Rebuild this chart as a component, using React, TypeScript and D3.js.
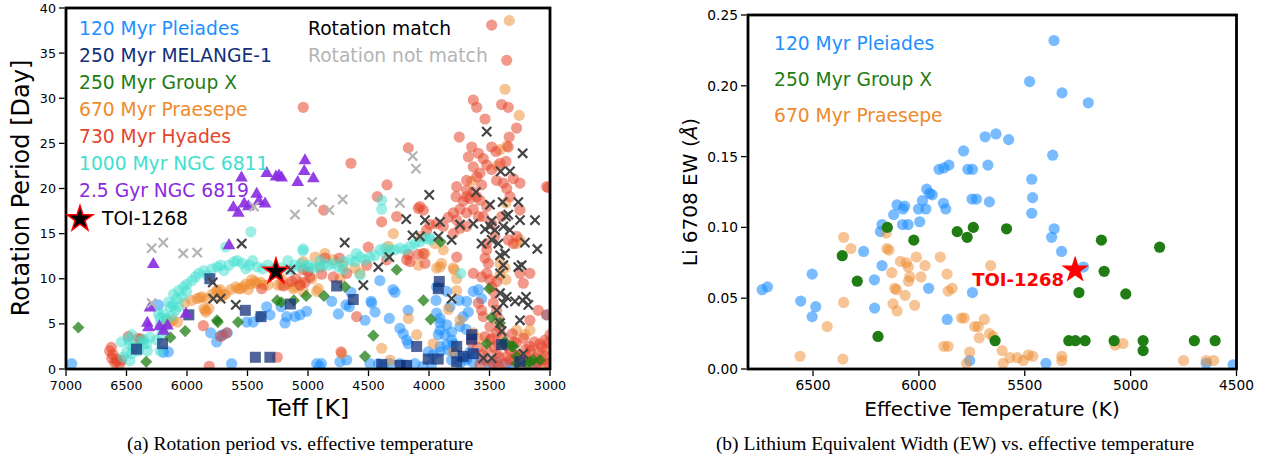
import React from 'react';
import * as d3 from 'd3';

type Pt = [number, number];

// ---- panel (a): rotation period vs Teff ----
const rotTicksX = [7000, 6500, 6000, 5500, 5000, 4500, 4000, 3500, 3000];
const rotTicksY = [0, 5, 10, 15, 20, 25, 30, 35, 40];

const pleiadesRot: Pt[] = [
  [6953, 0.6], [6237, 7.1], [6154, 1.9], [6196, 1.85], [5804, 4.0], [5755, 3.0], [5722, 3.7], [5667, 4.0],
  [5631, 0.6], [5507, 5.2], [5452, 5.2], [5397, 5.8], [5341, 6.9], [5314, 6.0], [5190, 5.1], [5176, 5.8],
  [5108, 5.8], [5066, 6.0], [5011, 6.4], [4928, 0.6], [4907, 0.3], [5222, 6.9], [4406, 9.8], [4297, 8.8],
  [4281, 8.5], [4645, 8.5], [4686, 7.1], [4659, 6.9], [4479, 7.5], [4804, 7.5], [4749, 6.1], [4529, 5.4],
  [4328, 5.6], [4446, 6.3], [4474, 7.3], [4240, 4.5], [4213, 3.9], [4185, 3.2], [4172, 2.8], [4172, 6.5],
  [4889, 0.6], [4736, 0.8], [4680, 1.0], [4488, 0.6], [4418, 0.6], [4377, 0.4], [4328, 0.6], [4240, 0.6],
  [4185, 0.4], [4116, 0.6], [3942, 7.6], [3937, 9.1], [3854, 8.6], [3827, 6.9], [3750, 7.6], [3689, 7.5],
  [3634, 8.6], [3592, 8.8], [3565, 7.8], [3675, 6.3], [3717, 5.8], [3937, 6.2], [3909, 5.6], [3909, 4.3],
  [3868, 3.8], [3813, 3.2], [3854, 2.7], [3744, 4.7], [3694, 4.4], [4006, 1.9], [3965, 1.6], [3909, 1.9],
  [3661, 1.9], [3813, 1.0], [3744, 0.6], [3689, 1.0], [3634, 0.7], [3565, 1.0], [3441, 0.8], [3358, 0.6],
  [3028, 6.0], [3138, 0.6], [3909, 5.1], [3854, 4.9], [3813, 4.1], [3923, 3.8], [3799, 2.8], [3909, 2.5],
  [3840, 2.1], [3785, 1.7], [3744, 1.4], [3689, 1.2], [3620, 1.7], [5700, 3.8], [4050, 0.3], [3980, 0.5],
  [3500, 0.4], [3300, 0.3],
];

const melangeRot: Pt[] = [
  [5811, 10.0], [6417, 2.2], [6202, 2.8], [5985, 6.0], [5518, 6.5], [5388, 5.8], [5146, 7.2], [5435, 1.3],
  [5315, 1.3], [4763, 9.2], [4626, 7.7], [3915, 9.7], [3923, 8.9], [4102, 2.5], [4391, 0.5], [4240, 0.4],
  [4185, 0.4], [4006, 1.1], [3924, 1.1], [3771, 2.5], [3771, 0.8], [3717, 1.4], [3647, 3.8], [3647, 3.3],
  [3634, 1.7], [3400, 2.7], [3248, 0.8],
];

const groupXRot: Pt[] = [
  [6898, 4.6], [6337, 0.8], [6137, 3.5], [6015, 4.2], [5752, 5.4], [5745, 5.2], [5578, 5.2], [5255, 7.6],
  [5220, 7.4], [5117, 7.6], [5015, 8.1], [4868, 8.1], [4694, 9.1], [4267, 11.0], [4046, 7.6], [3986, 5.5],
  [4460, 3.7], [4529, 1.4], [3502, 8.9], [3482, 5.7], [3413, 5.1], [3372, 3.0], [3317, 2.5], [3276, 0.6],
  [3166, 0.8], [3904, 14.1], [3523, 2.8], [3386, 2.8], [3303, 2.5], [3138, 1.0], [3083, 1.0], [3193, 0.6],
  [3276, 1.4],
];

const praesepeRot: Pt[] = [
  [5917, 7.8], [5875, 8.0], [5833, 7.8], [5792, 8.3], [5750, 8.7], [5722, 8.0], [5681, 8.3], [5847, 6.5],
  [5819, 6.7], [5639, 8.8], [5597, 9.1], [5556, 8.9], [5514, 9.4], [5472, 9.4], [5439, 9.7], [5389, 9.6],
  [5333, 9.3], [5250, 9.3], [6117, 5.4], [6078, 5.2], [6167, 5.4], [5222, 9.3], [5167, 9.4], [5111, 9.1],
  [5056, 9.6], [6017, 7.3], [5961, 7.6], [5893, 7.9], [5860, 6.7], [5843, 6.3], [5755, 8.6], [5727, 8.8],
  [5700, 8.2], [5576, 8.9], [5535, 9.1], [5493, 8.8], [5465, 9.9], [5424, 9.5], [5369, 9.3], [5218, 10.0],
  [5122, 8.9], [5066, 9.3], [5039, 8.6], [4970, 10.0], [4915, 8.9], [5039, 11.9], [4942, 12.4], [4901, 11.3],
  [4860, 12.8], [4791, 12.1], [4736, 10.0], [4713, 11.5], [4612, 11.2], [4570, 10.6], [4928, 8.6], [4721, 1.7],
  [4391, 2.3], [4322, 1.0], [4295, 15.0], [4336, 13.6], [4171, 5.6], [4102, 3.8], [4089, 11.5], [3937, 11.2],
  [3896, 11.7], [3793, 11.0], [3771, 10.0], [3771, 8.7], [3840, 6.6], [3744, 5.4], [3634, 4.0], [3592, 3.4],
  [3276, 4.3], [3207, 3.8], [3166, 4.3], [3337, 38.6], [3372, 31.0], [3254, 28.1], [3358, 24.7], [3413, 24.3],
  [3436, 22.5], [3647, 20.8], [3364, 18.4], [3248, 14.3], [3276, 13.9], [3413, 10.4], [3364, 9.9], [4061, 14.7],
  [3951, 13.9], [4033, 12.8], [3882, 13.2], [3799, 11.2], [3909, 11.3], [3413, 11.7], [3372, 11.2], [3965, 2.8],
  [3799, 1.9], [6174, 4.9], [6141, 5.2],
];

const hyadesRot: Pt[] = [
  [6639, 2.0], [6611, 1.6], [6583, 1.1], [6625, 2.4], [6597, 0.7], [6542, 1.0], [6622, 1.2], [6581, 0.8],
  [6554, 0.6], [6485, 3.6], [6402, 3.4], [6383, 3.3], [5865, 4.8], [5816, 0.3], [5672, 4.0], [5722, 3.6],
  [5383, 8.9], [5254, 1.3], [5135, 9.7], [5200, 9.2], [5100, 10.0], [5025, 9.6], [5040, 11.0], [5000, 10.8],
  [5066, 9.3], [4984, 10.2], [4887, 10.5], [4791, 10.2], [4680, 10.6], [4515, 11.5], [4350, 12.1], [4185, 12.1],
  [4047, 12.8], [4598, 5.8], [4727, 1.9], [5039, 29.0], [4645, 22.8], [4347, 20.4], [4427, 19.1], [4391, 16.3],
  [4267, 16.9], [4870, 17.6], [4089, 17.8], [4860, 12.3], [4741, 12.3], [4502, 13.5], [4171, 12.7], [4089, 12.7],
  [4157, 11.9], [4033, 11.7], [4171, 24.5], [4075, 18.0], [4019, 15.4],
  [3482, 38.1], [3358, 34.2], [3634, 29.8], [3606, 29.0], [3400, 29.3], [3345, 29.0], [3537, 27.7], [3276, 26.7],
  [3750, 25.7], [3337, 25.7], [3647, 24.6], [3675, 23.5], [3592, 23.9], [3551, 23.3], [3482, 24.6], [3446, 24.1],
  [3345, 24.6], [3634, 22.4], [3579, 21.7], [3523, 22.6], [3482, 22.1], [3413, 22.8], [3364, 23.0], [3689, 20.9],
  [3606, 21.3], [3565, 20.4], [3441, 20.9], [3386, 20.6], [3358, 20.0], [3014, 20.1], [3771, 20.2], [3634, 19.6],
  [3689, 19.1], [3579, 18.7], [3523, 18.0], [3689, 19.8], [3777, 19.1], [3717, 18.6], [3661, 18.9], [3606, 19.1],
  [3744, 17.7], [3799, 17.3], [3840, 16.8], [3771, 16.5], [3689, 17.3], [3634, 17.7], [3592, 16.9], [3551, 16.9],
  [3689, 15.8], [4047, 17.6], [3992, 16.0], [3937, 16.1], [3882, 15.8], [3799, 15.0], [3744, 15.6], [3482, 16.1],
  [3400, 16.9], [3455, 14.7], [3345, 14.3], [3303, 13.9], [3276, 14.7], [3523, 13.9], [3523, 13.2], [3537, 12.3],
  [3510, 11.7], [3523, 10.6], [3496, 9.9], [3482, 9.1], [3441, 9.7], [3455, 8.4], [3469, 7.3], [3441, 6.5],
  [3427, 5.6], [3413, 4.5], [3496, 3.2], [3427, 2.8], [3634, 10.6], [3565, 10.2], [3771, 12.4], [3331, 19.1],
  [3248, 17.6], [3166, 10.6], [3248, 10.6], [3221, 9.5], [3097, 6.5], [3166, 5.4], [3028, 20.2], [3303, 21.1],
  [3248, 20.6], [3537, 3.6], [3523, 2.1], [3496, 4.7], [3441, 4.0], [3592, 7.3], [3565, 6.5], [3551, 5.8],
  [3028, 6.0], [3042, 3.2], [3000, 3.8], [3441, 1.7], [3358, 1.4], [3276, 1.5], [3193, 1.4], [3110, 1.2],
  [3055, 1.0], [3014, 0.6], [3386, 0.6], [3248, 0.44], [3138, 0.44], [3055, 0.44], [3469, 0.6], [3331, 2.1],
  [3166, 2.5], [3083, 2.8], [3028, 2.1], [3300, 3.0], [3200, 2.2], [3100, 1.8],
  [3650, 3.0], [3600, 2.4], [3560, 1.6], [3520, 0.9], [3480, 3.4], [3460, 2.4], [3420, 1.3], [3390, 3.6],
  [3360, 2.6], [3330, 1.0], [3310, 3.9], [3280, 2.9], [3250, 1.6], [3220, 3.4], [3190, 0.9], [3160, 2.0],
  [3130, 3.0], [3100, 0.7], [3070, 2.4], [3040, 1.4], [3010, 2.9], [3580, 0.5], [3430, 0.3], [3300, 0.9],
];

const ngc6811Rot: Pt[] = [
  [6542, 3.0], [6486, 3.3], [6472, 2.8], [6444, 2.4], [6389, 3.0], [6361, 3.3], [6333, 2.8], [6306, 3.5],
  [6500, 1.85], [6458, 1.7], [6403, 2.0], [6528, 1.3], [6472, 0.9], [6328, 2.0], [6222, 2.0], [6457, 3.8],
  [6361, 2.8], [6250, 3.2], [6209, 3.8], [6196, 4.3], [6222, 5.7], [6194, 6.1], [6167, 5.6], [6125, 5.9],
  [6097, 6.5], [6069, 6.9], [6139, 6.9], [6153, 7.4], [6236, 6.1], [6222, 5.0], [6113, 7.1], [6111, 8.3],
  [6069, 8.7], [6028, 9.1], [6000, 9.4], [5958, 9.8], [5931, 10.2], [5903, 10.6], [6083, 7.8], [6042, 8.0],
  [6003, 8.6], [5861, 10.9], [5833, 10.4], [5792, 11.1], [5750, 11.3], [5722, 11.5], [5694, 10.9], [5653, 11.5],
  [5611, 11.9], [5583, 12.0], [5542, 11.7], [5514, 11.1], [5486, 11.5], [5458, 12.0], [5417, 11.3], [5375, 11.1],
  [5333, 11.5], [5278, 11.1], [5167, 12.0], [5111, 11.5], [5056, 11.7], [5000, 11.3], [5042, 13.1], [5472, 15.2],
  [5681, 13.5], [5039, 13.3], [5066, 11.3], [4998, 11.5], [4956, 11.2], [4915, 11.3], [4874, 11.5], [4832, 11.5],
  [4791, 11.7], [4750, 11.3], [4708, 11.9], [4653, 12.1], [4612, 11.9], [4570, 12.4], [4529, 12.1], [4488, 12.4],
  [4446, 12.6], [4405, 13.2], [4364, 13.4], [4322, 13.2], [4281, 13.2], [4240, 13.4], [4198, 13.2], [4157, 13.6],
  [4116, 13.9], [4075, 14.1], [4033, 14.5], [3992, 14.5], [4391, 18.7], [4391, 17.7], [4570, 10.4], [4708, 11.0],
  [3992, 14.3], [3738, 10.6], [5220, 11.2], [5150, 11.0], [4900, 12.0], [4600, 12.8], [4350, 12.6],
];

const ngc6819Rot: Pt[] = [
  [5617, 18.0], [5576, 17.4], [5527, 18.4], [5493, 18.1], [5424, 19.5], [5405, 18.7], [5355, 18.4], [5550, 21.3],
  [5341, 21.8], [5265, 21.4], [5240, 21.5], [5218, 21.3], [5085, 20.8], [5025, 23.2], [5031, 22.0], [4956, 21.2],
  [5653, 13.8], [6278, 11.7], [6306, 6.9], [6328, 5.2], [6319, 4.7], [6228, 4.8], [6161, 4.9], [6194, 4.3],
  [6008, 6.2],
];

const matchRot: Pt[] = [
  [5548, 13.9], [5787, 9.6], [5783, 7.8], [5722, 7.8], [5597, 7.1], [5144, 11.0], [4697, 14.0], [4419, 11.3],
  [4328, 12.4], [4543, 9.3], [4188, 16.6], [4136, 14.8], [4075, 14.7], [4033, 16.5], [3998, 19.3], [3813, 7.8],
  [3813, 14.3], [3523, 26.3], [3226, 23.9], [3408, 21.9], [3331, 21.9], [3612, 19.6], [3496, 18.2], [3391, 18.5],
  [3262, 18.5], [3345, 17.1], [3909, 16.3], [3744, 16.0], [3634, 16.1], [3482, 16.4], [3364, 16.9], [3248, 16.5],
  [3124, 16.5], [3537, 15.5], [3496, 15.8], [3455, 15.4], [3386, 15.8], [3331, 15.4], [3923, 14.7], [3565, 13.9],
  [3482, 14.3], [3427, 13.9], [3207, 14.0], [3105, 13.3], [3413, 12.6], [3372, 12.8], [3386, 11.5], [3262, 11.3],
  [3234, 11.5], [3413, 10.6], [3413, 8.4], [3358, 8.0], [3289, 7.5], [3226, 7.6], [3198, 8.0], [3179, 7.1],
  [3441, 6.5], [3386, 7.3], [3248, 5.4], [3413, 5.1], [3551, 1.2], [3482, 1.2], [3221, 1.7], [3400, 4.2],
];

const noMatchRot: Pt[] = [
  [6292, 13.4], [6196, 14.0], [6031, 12.8], [5915, 12.9], [6292, 7.3], [5446, 18.0], [5108, 17.1], [4965, 18.5],
  [4824, 17.6], [4713, 18.8], [4240, 18.4], [4135, 23.6], [4108, 22.2],
];

const toiRot: Pt = [5265, 10.8];

// ---- panel (b): Li EW vs Teff ----
const liTicksX = [6500, 6000, 5500, 5000, 4500];
const liTicksY = [0, 0.05, 0.1, 0.15, 0.2, 0.25];

const pleiadesLi: Pt[] = [
  [5362, 0.232], [5477, 0.203], [5324, 0.195], [5200, 0.188], [5687, 0.164], [5636, 0.166], [5576, 0.162],
  [5789, 0.154], [5368, 0.151], [5905, 0.141], [5882, 0.142], [5858, 0.144], [5769, 0.141], [5747, 0.141],
  [5674, 0.144], [5467, 0.134], [5463, 0.121], [5467, 0.110], [5963, 0.127], [5949, 0.124], [5937, 0.123],
  [5983, 0.119], [6002, 0.113], [5967, 0.113], [5884, 0.117], [5873, 0.113], [5749, 0.120], [5728, 0.120],
  [5667, 0.118], [6103, 0.116], [6067, 0.115], [6119, 0.109], [6075, 0.113], [6077, 0.102], [6051, 0.102],
  [5996, 0.104], [6174, 0.102], [6182, 0.097], [5361, 0.099], [5373, 0.093], [5326, 0.083], [5223, 0.072],
  [6261, 0.083], [6174, 0.073], [6210, 0.063], [5954, 0.057], [5747, 0.054], [6209, 0.043], [5866, 0.035],
  [5760, 0.006], [5400, 0.004], [6740, 0.056], [6715, 0.058], [6504, 0.067], [6558, 0.048], [6487, 0.044],
  [6504, 0.037], [4643, 0.004], [4516, 0.003],
];

const groupXLi: Pt[] = [
  [6149, 0.100], [6024, 0.091], [5819, 0.097], [5772, 0.093], [5743, 0.100], [5586, 0.099], [6362, 0.080],
  [6291, 0.062], [6193, 0.023], [5244, 0.054], [5292, 0.020], [5261, 0.020], [5215, 0.020], [5640, 0.020],
  [5138, 0.091], [4863, 0.086], [5125, 0.069], [5023, 0.053], [5078, 0.020], [4941, 0.020], [4941, 0.013],
  [4699, 0.020], [4601, 0.020],
];

const praesepeLi: Pt[] = [
  [6355, 0.093], [6321, 0.085], [6355, 0.047], [6433, 0.030], [6561, 0.009], [6359, 0.007], [6154, 0.096],
  [6151, 0.085], [6141, 0.084], [6087, 0.076], [6059, 0.075], [6050, 0.072], [6128, 0.068], [6114, 0.057],
  [6106, 0.056], [6065, 0.052], [6122, 0.046], [6103, 0.041], [6043, 0.065], [6049, 0.062], [6020, 0.045],
  [6012, 0.079], [5990, 0.065], [5971, 0.073], [5899, 0.079], [5867, 0.067], [5862, 0.055], [5843, 0.057],
  [5799, 0.036], [5786, 0.036], [5882, 0.016], [5862, 0.016], [5760, 0.012], [5775, 0.004], [5736, 0.030],
  [5715, 0.022], [5661, 0.073], [5720, 0.030], [5691, 0.035], [5666, 0.025], [5650, 0.023], [5607, 0.013],
  [5602, 0.004], [5570, 0.008], [5535, 0.008], [5507, 0.006], [5483, 0.010], [5462, 0.009], [5325, 0.009],
  [5325, 0.006], [5073, 0.017], [5036, 0.018], [4750, 0.006], [4643, 0.006], [4608, 0.006],
];

const toiLi: Pt = [5262, 0.07];

const C = {
  pleiades: '#1e90ff',
  melange: '#13307a',
  groupX: '#1f7d13',
  praesepe: '#ee8a2c',
  hyades: '#e5452c',
  ngc6811: '#40e0d0',
  ngc6819: '#8a2be2',
  match: '#444444',
  noMatch: '#b4b4b4',
};

const FONT = 'DejaVu Sans, sans-serif';

const starPath = (r: number) => d3.symbol().type(d3.symbolStar).size((r * r) / 0.8908130915292852)() as string;
const triPath = d3.symbol().type(d3.symbolTriangle).size(70)() as string;

function Axes({ x, y, ticksX, ticksY, fmtY, fontSize }: any) {
  const [x0, x1] = x.range();
  const [y0, y1] = y.range();
  return (
    <g>
      <rect x={x0} y={y1} width={x1 - x0} height={y0 - y1} fill="none" stroke="#000" strokeWidth={2.8} />
      {ticksX.map((t: number) => (
        <g key={'x' + t} transform={`translate(${x(t)},${y0})`}>
          <line y1={1.4} y2={7} stroke="#000" strokeWidth={1.3} />
          <text y={16} textAnchor="middle" dominantBaseline="central" fontSize={fontSize} fontFamily={FONT}>
            {t}
          </text>
        </g>
      ))}
      {ticksY.map((t: number) => (
        <g key={'y' + t} transform={`translate(${x0},${y(t)})`}>
          <line x1={-1.4} x2={-7} stroke="#000" strokeWidth={1.3} />
          <text x={-10} textAnchor="end" dominantBaseline="central" fontSize={fontSize} fontFamily={FONT}>
            {fmtY(t)}
          </text>
        </g>
      ))}
    </g>
  );
}

export default function App() {
  const xA = d3.scaleLinear().domain([7000, 3000]).range([66, 550]);
  const yA = d3.scaleLinear().domain([0, 40]).range([369, 8]);
  const xB = d3.scaleLinear().domain([6807, 4500]).range([748, 1236.5]);
  const yB = d3.scaleLinear().domain([0, 0.25]).range([369, 15]);

  const circles = (data: Pt[], x: any, y: any, color: string, op: number, key: string) =>
    data.map((d, i) => <circle key={key + i} cx={x(d[0])} cy={y(d[1])} r={5.6} fill={color} fillOpacity={op} />);

  const legendA = [
    ['120 Myr Pleiades', C.pleiades],
    ['250 Myr MELANGE-1', C.melange],
    ['250 Myr Group X', C.groupX],
    ['670 Myr Praesepe', C.praesepe],
    ['730 Myr Hyades', C.hyades],
    ['1000 Myr NGC 6811', C.ngc6811],
    ['2.5 Gyr NGC 6819', C.ngc6819],
  ];
  const legendB = [
    ['120 Myr Pleiades', C.pleiades],
    ['250 Myr Group X', C.groupX],
    ['670 Myr Praesepe', C.praesepe],
  ];

  return (
    <svg width={1273} height={460} style={{ position: 'absolute', left: 0, top: 0, background: '#fff' }}>
      <defs>
        <clipPath id="clipA">
          <rect x={66} y={8} width={484} height={361} />
        </clipPath>
        <clipPath id="clipB">
          <rect x={748} y={15} width={488.5} height={354} />
        </clipPath>
      </defs>

      {/* panel (a) */}
      <g clipPath="url(#clipA)">
        {circles(pleiadesRot, xA, yA, C.pleiades, 0.55, 'pl')}
        {circles(praesepeRot, xA, yA, C.praesepe, 0.5, 'pr')}
        {circles(hyadesRot, xA, yA, C.hyades, 0.55, 'hy')}
        {circles(ngc6811Rot, xA, yA, C.ngc6811, 0.5, 'n1')}
        {groupXRot.map((d, i) => (
          <rect key={'gx' + i} x={-4.3} y={-4.3} width={8.6} height={8.6} fill={C.groupX} fillOpacity={0.75}
            transform={`translate(${xA(d[0])},${yA(d[1])}) rotate(45)`} />
        ))}
        {melangeRot.map((d, i) => (
          <rect key={'me' + i} x={xA(d[0]) - 5.5} y={yA(d[1]) - 5.5} width={11} height={11} fill={C.melange} fillOpacity={0.75} />
        ))}
        {ngc6819Rot.map((d, i) => (
          <path key={'n9' + i} d={triPath} transform={`translate(${xA(d[0])},${yA(d[1]) + 1})`} fill={C.ngc6819} fillOpacity={0.9} />
        ))}
        {noMatchRot.map((d, i) => (
          <path key={'nm' + i} d="M-4.6,-4.6L4.6,4.6M-4.6,4.6L4.6,-4.6" transform={`translate(${xA(d[0])},${yA(d[1])})`}
            stroke={C.noMatch} strokeWidth={2.2} />
        ))}
        {matchRot.map((d, i) => (
          <path key={'ma' + i} d="M-4.6,-4.6L4.6,4.6M-4.6,4.6L4.6,-4.6" transform={`translate(${xA(d[0])},${yA(d[1])})`}
            stroke={C.match} strokeWidth={2.2} />
        ))}
        <path d={starPath(13.5)} transform={`translate(${xA(toiRot[0])},${yA(toiRot[1])})`} fill="#000" stroke="#f00" strokeWidth={1.5} />
      </g>
      <Axes x={xA} y={yA} ticksX={rotTicksX} ticksY={rotTicksY} fmtY={(t: number) => String(t)} fontSize={12.7} />
      {legendA.map(([label, color], i) => (
        <text key={label} x={79} y={28 + i * 27.1} dominantBaseline="central" fontSize={18.7} fontFamily={FONT} fill={color}>
          {label}
        </text>
      ))}
      <path d={starPath(13.5)} transform="translate(80,219)" fill="#000" stroke="#f00" strokeWidth={1.5} />
      <text x={102} y={218} dominantBaseline="central" fontSize={18.7} fontFamily={FONT} fill="#000">TOI-1268</text>
      <text x={308} y={28} dominantBaseline="central" fontSize={18.7} fontFamily={FONT} fill="#000">Rotation match</text>
      <text x={308} y={55} dominantBaseline="central" fontSize={18.7} fontFamily={FONT} fill={C.noMatch}>Rotation not match</text>
      <text x={308} y={408} textAnchor="middle" dominantBaseline="central" fontSize={23.5} fontFamily={FONT}>Teff [K]</text>
      <text transform="translate(21,188) rotate(-90)" textAnchor="middle" dominantBaseline="central" fontSize={24} fontFamily={FONT}>
        Rotation Period [Day]
      </text>
      <text x={300} y={450} textAnchor="middle" fontSize={19.5} fontFamily="Liberation Serif, serif">
        (a) Rotation period vs. effective temperature
      </text>

      {/* panel (b) */}
      <g clipPath="url(#clipB)">
        {circles(pleiadesLi, xB, yB, C.pleiades, 0.6, 'bp')}
        {circles(praesepeLi, xB, yB, C.praesepe, 0.5, 'bo')}
        {groupXLi.map((d, i) => (
          <circle key={'bg' + i} cx={xB(d[0])} cy={yB(d[1])} r={5.6} fill={C.groupX} />
        ))}
        <path d={starPath(14.5)} transform={`translate(${xB(toiLi[0])},${yB(toiLi[1])})`} fill="#ff0000" />
      </g>
      <text x={xB(toiLi[0]) - 11} y={yB(toiLi[1]) + 10} textAnchor="end" dominantBaseline="central" fontSize={18} fontWeight="bold"
        fontFamily={FONT} fill="#ff0000">
        TOI-1268
      </text>
      <Axes x={xB} y={yB} ticksX={liTicksX} ticksY={liTicksY} fmtY={(t: number) => t.toFixed(2)} fontSize={13.8} />
      {legendB.map(([label, color], i) => (
        <text key={label} x={774} y={43 + i * 36} dominantBaseline="central" fontSize={18.7} fontFamily={FONT} fill={color}>
          {label}
        </text>
      ))}
      <text x={992} y={409} textAnchor="middle" dominantBaseline="central" fontSize={20} fontFamily={FONT}>
        Effective Temperature (K)
      </text>
      <text transform="translate(690,192) rotate(-90)" textAnchor="middle" dominantBaseline="central" fontSize={20} fontFamily={FONT}>
        Li 6708 EW (<tspan fontStyle="italic">Å</tspan>)
      </text>
      <text x={955} y={450} textAnchor="middle" fontSize={19.5} fontFamily="Liberation Serif, serif">
        (b) Lithium Equivalent Width (EW) vs. effective temperature
      </text>
    </svg>
  );
}
